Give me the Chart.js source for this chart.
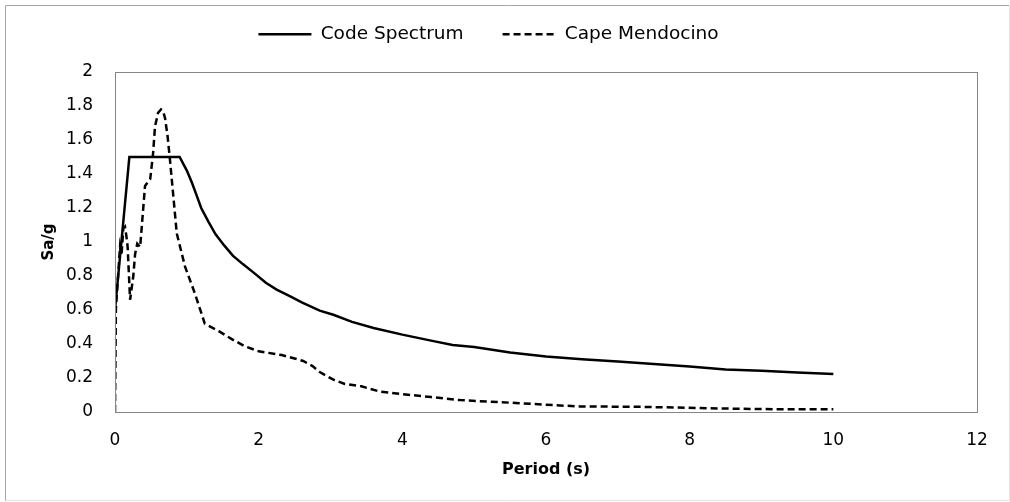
<!DOCTYPE html>
<html>
<head>
<meta charset="utf-8">
<script src="https://cdn.jsdelivr.net/npm/chart.js@4"></script>
<style>
  html, body { margin: 0; padding: 0; background: #fff; }
  #wrap { width: 1010px; height: 502px; }
</style>
</head>
<body>
<div id="wrap"><canvas id="grafico"></canvas></div>
<script>
// periodos (s) e Sa/g
let codeT  = [0, 0.2, 0.9, 1.0, 1.07, 1.14, 1.2, 1.3, 1.4, 1.52, 1.64, 1.78, 1.93, 2.1, 2.25, 2.44, 2.6, 2.85, 3.04, 3.3, 3.6, 4.0, 4.4, 4.7, 5.0, 5.5, 6.0, 6.5, 7.0, 7.5, 8.0, 8.5, 9.0, 9.5, 10]
let codeSa = [0.6, 1.5, 1.5, 1.42, 1.35, 1.27, 1.2, 1.12, 1.045, 0.98, 0.92, 0.87, 0.82, 0.76, 0.72, 0.68, 0.645, 0.596, 0.572, 0.53, 0.494, 0.455, 0.42, 0.394, 0.382, 0.35, 0.326, 0.311, 0.297, 0.283, 0.268, 0.25, 0.242, 0.233, 0.224]

let capeT  = [0, 0.012, 0.03, 0.046, 0.07, 0.09, 0.116, 0.139, 0.16, 0.176, 0.21, 0.255, 0.28, 0.31, 0.35, 0.418, 0.49, 0.53, 0.557, 0.6, 0.64, 0.67, 0.696, 0.73, 0.766, 0.86, 0.975, 1.11, 1.25, 1.45, 1.62, 1.81, 2.0, 2.32, 2.5, 2.62, 2.75, 2.85, 3.04, 3.2, 3.43, 3.69, 4.0, 4.4, 4.8, 5.58, 6.2, 6.47, 7.37, 8.27, 9.0, 10]
let capeSa = [0, 0.6, 0.72, 0.82, 0.97, 0.92, 1.08, 1.09, 1.03, 0.97, 0.66, 0.8, 0.93, 0.99, 0.97, 1.33, 1.37, 1.52, 1.68, 1.76, 1.78, 1.77, 1.73, 1.63, 1.48, 1.05, 0.855, 0.7, 0.52, 0.474, 0.43, 0.386, 0.357, 0.335, 0.315, 0.3, 0.27, 0.235, 0.19, 0.165, 0.151, 0.12, 0.105, 0.088, 0.07, 0.053, 0.038, 0.033, 0.03, 0.022, 0.017, 0.016]

let nomes = ['Code Spectrum', 'Cape Mendocino']

const pontos = (xs, ys) => xs.map((x, i) => ({x: x, y: ys[i]}))

Chart.defaults.font.family = "'DejaVu Sans', sans-serif"
Chart.defaults.color = '#000'

// caixa da area do grafico + borda externa
const molduras = {
  id: 'molduras',
  beforeDraw(chart) {
    const c = chart.ctx
    c.save()
    c.fillStyle = '#fff'
    c.fillRect(0, 0, chart.width, chart.height)
    c.lineWidth = 1
    c.strokeStyle = '#a6a6a6'
    c.beginPath()
    c.moveTo(5.5, 501); c.lineTo(5.5, 5.5); c.lineTo(1009, 5.5)
    c.stroke()
    c.strokeStyle = '#e3e3e3'
    c.beginPath()
    c.moveTo(5.5, 500.5); c.lineTo(1009.5, 500.5); c.lineTo(1009.5, 5.5)
    c.stroke()
    c.restore()
  },
  afterDatasetsDraw(chart) {
    const a = chart.chartArea
    const c = chart.ctx
    c.save()
    c.strokeStyle = '#868686'
    c.lineWidth = 1
    c.strokeRect(Math.round(a.left) + 0.5, Math.round(a.top) + 0.5, Math.round(a.right - a.left), Math.round(a.bottom - a.top))
    c.restore()
  }
}

// altura da legenda fixa para posicionar a area do grafico
const legendaAltura = {
  id: 'legendaAltura',
  beforeInit(chart) {
    const fitOriginal = chart.legend.fit
    chart.legend.fit = function () {
      fitOriginal.bind(chart.legend)()
      this.height = 86
    }
  }
}

const ctx = document.getElementById('grafico')

let grafico = new Chart(ctx, {
  type: 'line',
  data: {
    datasets: [{
      label: nomes[0],
      data: pontos(codeT, codeSa),
      borderColor: '#000',
      backgroundColor: 'rgba(0,0,0,0)',
      borderWidth: 2.5,
      pointRadius: 0,
      tension: 0
    }, {
      label: nomes[1],
      data: pontos(capeT, capeSa),
      borderColor: '#000',
      backgroundColor: 'rgba(0,0,0,0)',
      borderWidth: 2.5,
      borderDash: [7, 4],
      pointRadius: 0,
      tension: 0
    }]
  },
  options: {
    responsive: true,
    maintainAspectRatio: false,
    animation: false,
    layout: { padding: { left: 0, right: 33, top: -14, bottom: 0 } },
    plugins: {
      legend: {
        position: 'top',
        labels: {
          // 53 = largura em que o tracejado de ida e volta coincide
          boxWidth: 53,
          boxHeight: 0,
          padding: 39,
          font: { size: 18.5 }
        }
      },
      tooltip: { enabled: false }
    },
    scales: {
      x: {
        type: 'linear',
        min: 0,
        max: 12,
        ticks: { stepSize: 2, padding: 18, font: { size: 17 } },
        grid: { display: false, drawTicks: false },
        border: { display: false },
        title: { display: true, text: 'Period (s)', font: { size: 16, weight: 'bold' }, padding: { top: 4, bottom: 23 } },
        afterFit: (s) => { s.height = 90 }
      },
      y: {
        min: 0,
        max: 2,
        ticks: {
          stepSize: 0.2,
          padding: 22,
          font: { size: 17 },
          callback: (v) => String(Math.round(v * 10) / 10)
        },
        grid: { display: false, drawTicks: false },
        border: { display: false },
        title: { display: true, text: 'Sa/g', font: { size: 15, weight: 'bold' }, padding: { top: 40, bottom: 0 } },
        afterFit: (s) => { s.width = 115 }
      }
    }
  },
  plugins: [molduras, legendaAltura]
})
</script>
</body>
</html>
